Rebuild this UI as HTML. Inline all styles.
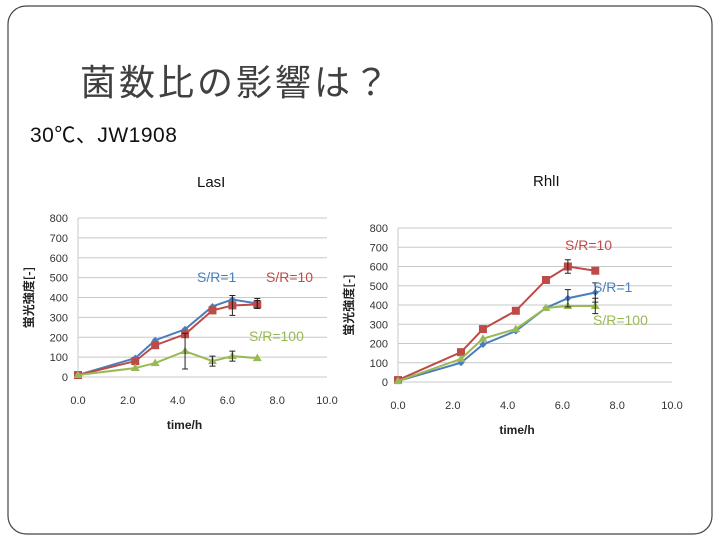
<!DOCTYPE html>
<html><head><meta charset="utf-8"><style>
body{margin:0;background:#fff;}
#wrap{position:relative;width:720px;height:540px;overflow:hidden;font-family:"Liberation Sans","Noto Sans CJK JP",sans-serif;}
</style></head><body>
<div id="wrap">
<svg id="svg" width="720" height="540" xmlns="http://www.w3.org/2000/svg">
<rect x="8" y="6" width="704" height="528" rx="18" fill="#fff" stroke="#444" stroke-width="1.2"/>
<text x="80" y="95" font-size="36" letter-spacing="3" fill="#404040" font-family="Noto Sans CJK JP, sans-serif">菌数比の影響は？</text>
<text x="30" y="142" font-size="21" letter-spacing="0.5" fill="#111" font-family="Liberation Sans, Noto Sans CJK JP, sans-serif">30℃、JW1908</text>
<text x="197" y="187" font-size="15" fill="#111">LasI</text>
<text x="533" y="186" font-size="15" fill="#111">RhlI</text>
</svg>
</div>
<script>
const times=[0,2.3,3.1,4.3,5.4,6.2,7.2];
const xTicks=["0.0","2.0","4.0","6.0","8.0","10.0"];
const yTicks=[0,100,200,300,400,500,600,700,800];
const lasI_sr1=[10,95,185,240,355,390,370];
const lasI_sr10=[10,80,160,215,335,360,365];
const lasI_sr100=[10,45,70,130,80,105,95];
const rhlI_sr1=[5,100,195,265,385,435,465];
const rhlI_sr10=[10,155,275,370,530,600,578];
const rhlI_sr100=[5,120,225,275,385,395,395];
const lasI_err=[[4,6,25,'g'],[5,5,50,'r'],[5,4,25,'g'],[6,5,25,'b'],[6,6,20,'r'],[7,6,35,'r'],[3,2,90,'g']];
const rhlI_err=[[5,5,35,'r'],[5,6,45,'b'],[6,6,50,'b'],[6,5,40,'g']];
const C={b:'#4a7ebb',r:'#be4b48',g:'#98b954'};
const svg=document.getElementById('svg');const NS='http://www.w3.org/2000/svg';
function mk(t,a,p){const e=document.createElementNS(NS,t);for(const k in a)e.setAttribute(k,a[k]);(p||svg).appendChild(e);return e;}
function chart(o){
 const g=mk('g',{});
 
 
 const X=v=>o.x0+v*(o.x1-o.x0)/10, Y=v=>o.y0-v*(o.y0-o.y1)/800;
 yTicks.forEach(t=>{
  const l=mk('line',{x1:o.x0,x2:o.x1,y1:Y(t),y2:Y(t),stroke:'#c8c8c8','stroke-width':1},g);
  
  
  const tx=mk('text',{x:o.x0-10,y:Y(t)+4,'font-size':11,'text-anchor':'end',fill:'#333'},g);tx.textContent=t;
  
  
 });
 const ax=mk('line',{x1:o.x0,x2:o.x0,y1:o.y1,y2:o.y0,stroke:'#c8c8c8'},g);
 
 
 xTicks.forEach((t,i)=>{const tx=mk('text',{x:X(i*2),y:o.y0+27,'font-size':11,'text-anchor':'middle',fill:'#333'},g);tx.textContent=t;
  
  });
 const xt=mk('text',{x:(o.x0+o.x1)/2-18,y:o.y0+52,'font-size':12,'font-weight':'bold','text-anchor':'middle',fill:'#222'},g);xt.textContent='time/h';
 
 
 const yt=mk('text',{transform:`translate(${o.x0-45},${(o.y0+o.y1)/2}) rotate(-90)`,'font-size':12,'font-weight':'bold','text-anchor':'middle',fill:'#222','font-family':'Noto Sans CJK JP, sans-serif'},g);yt.textContent='蛍光強度[-]';
 
 
 const series=[[o.s1,'b','diamond'],[o.s10,'r','square'],[o.s100,'g','triangle']];
 series.forEach(([d,c,m])=>{
  const pl=mk('polyline',{points:d.map((v,i)=>X(times[i])+','+Y(v)).join(' '),fill:'none',stroke:C[c],'stroke-width':2},g);
  
  
  d.forEach((v,i)=>{const x=X(times[i]),y=Y(v);let e;
   if(m=='square')e=mk('rect',{x:x-4,y:y-4,width:8,height:8,fill:C[c]},g);
   else if(m=='diamond')e=mk('polygon',{points:`${x},${y-3.5} ${x+3.5},${y} ${x},${y+3.5} ${x-3.5},${y}`,fill:C[c]},g);
   else e=mk('polygon',{points:`${x},${y-4.5} ${x+4.5},${y+3} ${x-4.5},${y+3}`,fill:C[c]},g);
   
   });
 });
 const map={b:o.s1,r:o.s10,g:o.s100};
 o.err.forEach(([i,_,e,c])=>{const x=X(times[i]),v=map[c][i];
  const l=mk('path',{d:`M${x},${Y(v-e)}V${Y(v+e)}M${x-3},${Y(v-e)}h6M${x-3},${Y(v+e)}h6`,stroke:'#222','stroke-width':1,fill:'none'},g);
  
  });
 o.labels.forEach(([t,x,y,c])=>{const tx=mk('text',{x,y,'font-size':14,fill:C[c]},g);tx.textContent=t;
  
  });
}
chart({name:'lasI-chart',x0:78,x1:327,y0:377,y1:218,s1:lasI_sr1,s10:lasI_sr10,s100:lasI_sr100,err:lasI_err,
 labels:[['S/R=1',197,282,'b'],['S/R=10',266,282,'r'],['S/R=100',249,341,'g']]});
chart({name:'rhlI-chart',x0:398,x1:672,y0:382,y1:228,s1:rhlI_sr1,s10:rhlI_sr10,s100:rhlI_sr100,err:rhlI_err,
 labels:[['S/R=10',565,250,'r'],['S/R=1',593,292,'b'],['S/R=100',593,325,'g']]});
</script>
</body></html>
